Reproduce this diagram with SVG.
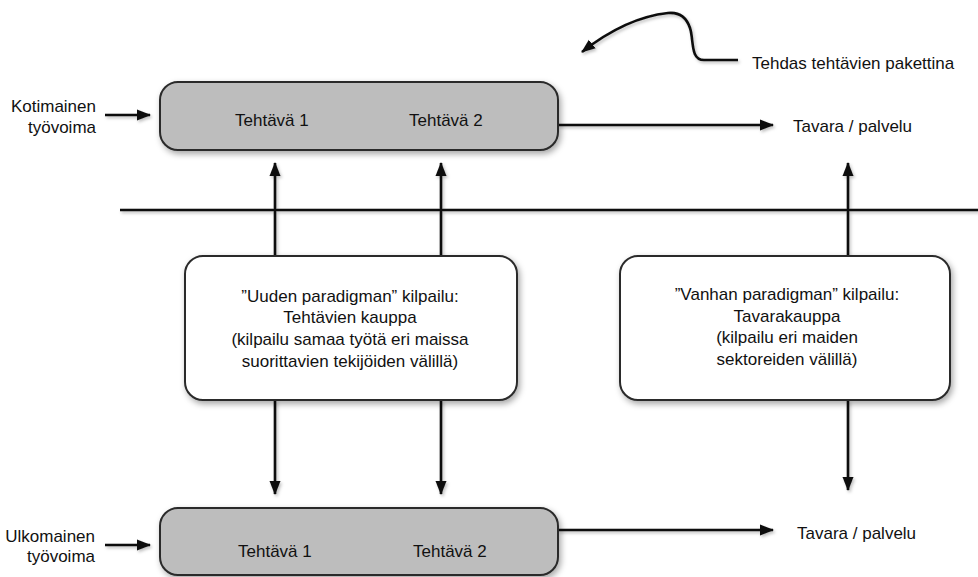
<svg xmlns="http://www.w3.org/2000/svg" width="978" height="577" viewBox="0 0 978 577">
<style>
text{font-family:"Liberation Sans",Arial,sans-serif;font-size:17px;fill:#111}
.grey{fill:#bdbdbd;stroke:#2a2a2a;stroke-width:2}
.white{fill:#fff;stroke:#2a2a2a;stroke-width:2}
.ln{fill:none;stroke:#111;stroke-width:2.6}
.arr{marker-end:url(#ah)}
.c{text-anchor:middle}
.r{text-anchor:end}
</style>
<defs>
<marker id="ah" markerUnits="userSpaceOnUse" markerWidth="14" markerHeight="12" viewBox="0 0 14 12" refX="13" refY="6" orient="auto">
<path d="M0,0.5 L14,6 L0,11.5 Z" fill="#111"/>
</marker>
<filter id="sh" x="-10%" y="-20%" width="125%" height="150%">
<feDropShadow dx="2" dy="3" stdDeviation="3" flood-color="#000" flood-opacity="0.35"/>
</filter>
<filter id="lsh" x="-5%" y="-50%" width="110%" height="200%">
<feDropShadow dx="1.5" dy="2" stdDeviation="1.5" flood-color="#000" flood-opacity="0.25"/>
</filter>
</defs>
<rect width="978" height="577" fill="#fff"/>

<g id="connectors" filter="url(#lsh)">
<path class="ln arr" d="M105,115 L150,115"/>
<path class="ln arr" d="M558,125 L773,125"/>
<path class="ln" d="M120,210 L978,210"/>
<path class="ln arr" d="M275,256 L275,163"/>
<path class="ln arr" d="M441,256 L441,163"/>
<path class="ln arr" d="M848,256 L848,163"/>
<path class="ln arr" d="M275,400 L275,494"/>
<path class="ln arr" d="M441,400 L441,494"/>
<path class="ln arr" d="M848,400 L848,490"/>
<path class="ln arr" d="M558,530 L773,530"/>
<path class="ln arr" d="M105,545 L150,545"/>
<path class="ln arr" d="M738,60 L704,60 C690,60 694,40 690,28 C686,16 678,12 668,13 C640,16 610,30 582,52"/>
</g>

<g id="top-box">
<rect class="grey" x="160" y="82" width="398" height="68" rx="18" filter="url(#sh)"/>
<text x="235" y="126">Tehtävä 1</text>
<text x="409" y="126">Tehtävä 2</text>
</g>

<g id="bottom-box">
<rect class="grey" x="160" y="508" width="398" height="67" rx="18" filter="url(#sh)"/>
<text x="238" y="557">Tehtävä 1</text>
<text x="413" y="557">Tehtävä 2</text>
</g>

<g id="new-paradigm">
<rect class="white" x="185" y="256" width="332" height="144" rx="18" filter="url(#sh)"/>
<text class="c" x="350" y="302">”Uuden paradigman” kilpailu:</text>
<text class="c" x="350" y="323">Tehtävien kauppa</text>
<text class="c" x="350" y="345">(kilpailu samaa työtä eri maissa</text>
<text class="c" x="350" y="367">suorittavien tekijöiden välillä)</text>
</g>

<g id="old-paradigm">
<rect class="white" x="620" y="256" width="330" height="144" rx="18" filter="url(#sh)"/>
<text class="c" x="787" y="300">”Vanhan paradigman” kilpailu:</text>
<text class="c" x="787" y="322">Tavarakauppa</text>
<text class="c" x="787" y="343">(kilpailu eri maiden</text>
<text class="c" x="787" y="365">sektoreiden välillä)</text>
</g>

<g id="labels">
<text class="r" x="96" y="112">Kotimainen</text>
<text class="r" x="96" y="133">työvoima</text>
<text class="r" x="95" y="542">Ulkomainen</text>
<text class="r" x="95" y="562">työvoima</text>
<text x="793" y="132">Tavara / palvelu</text>
<text x="797" y="539">Tavara / palvelu</text>
<text x="752" y="69">Tehdas tehtävien pakettina</text>
</g>
</svg>
